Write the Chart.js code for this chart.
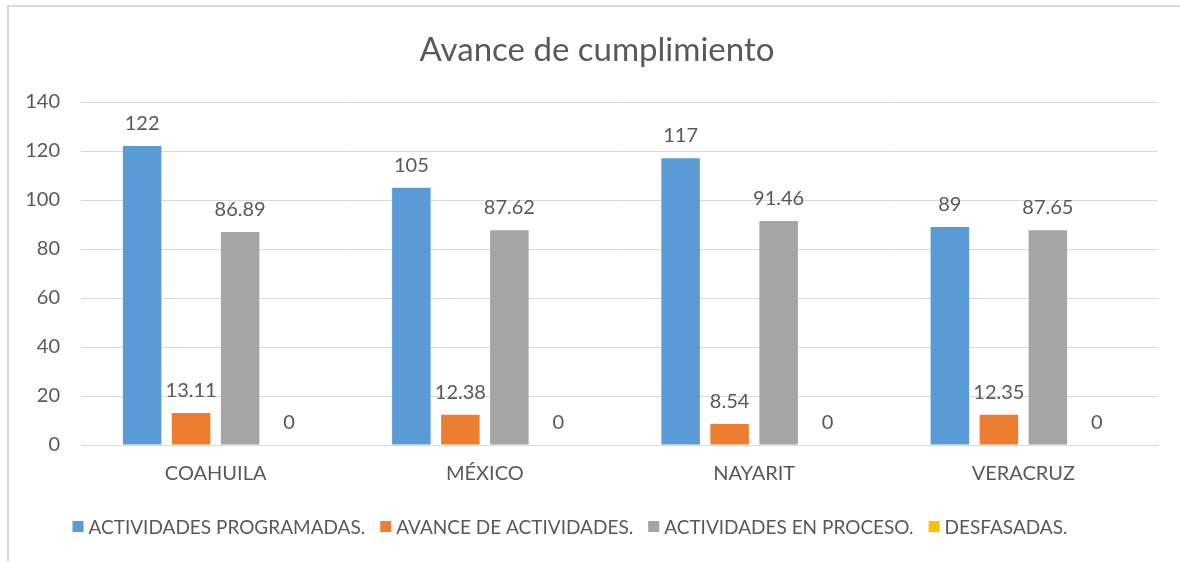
<!DOCTYPE html>
<html lang="es">
<head>
    <meta charset="UTF-8">
    <title>Avance de cumplimiento</title>
    <script src="https://cdn.jsdelivr.net/npm/chart.js"></script>
    <style>
        html, body { margin: 0; padding: 0; background: #fff; overflow: hidden; }
        #marco { position: absolute; left: 7px; top: 5px; width: 1200px; height: 600px; border: 2px solid #d9d9d9; }
        #avanceChart { position: absolute; left: 0; top: 0; }
    </style>
</head>
<body>
    <div id="marco"></div>
    <canvas id="avanceChart" width="1180" height="561"></canvas>

    <script>
        const estados = ['COAHUILA', 'MÉXICO', 'NAYARIT', 'VERACRUZ'];
        const programadas = [122, 105, 117, 89];
        const avance = [13.11, 12.38, 8.54, 12.35];
        const enProceso = [86.89, 87.62, 91.46, 87.65];
        const desfasadas = [0, 0, 0, 0];
        const ticksY = [0, 20, 40, 60, 80, 100, 120, 140];

        const FUENTE = "Lato, 'Open Sans', sans-serif";
        const GRIS_TEXTO = '#595959';

        // etiquetas encima de cada barra
        const etiquetas = {
            id: 'etiquetas',
            afterDatasetsDraw(chart) {
                const ctx = chart.ctx;
                ctx.save();
                ctx.font = '20px ' + FUENTE;
                ctx.fillStyle = GRIS_TEXTO;
                ctx.textAlign = 'center';
                ctx.textBaseline = 'alphabetic';
                chart.data.datasets.forEach((ds, i) => {
                    chart.getDatasetMeta(i).data.forEach((bar, j) => {
                        ctx.fillText(String(ds.data[j]), bar.x, bar.y - 16);
                    });
                });
                ctx.restore();
            }
        };

        // título y leyenda dibujados a mano
        const tituloLeyenda = {
            id: 'tituloLeyenda',
            afterDraw(chart) {
                const ctx = chart.ctx;
                ctx.save();
                ctx.fillStyle = GRIS_TEXTO;
                ctx.font = '33px ' + FUENTE;
                ctx.textAlign = 'center';
                ctx.textBaseline = 'alphabetic';
                ctx.fillText('Avance de cumplimiento', 597, 61);

                ctx.font = '19px ' + FUENTE;
                ctx.textAlign = 'left';
                const caja = 11, hueco = 5, sep = 15;
                const items = chart.data.datasets.map(ds => ({ texto: ds.label, color: ds.backgroundColor, w: ctx.measureText(ds.label).width }));
                const total = items.reduce((s, it) => s + caja + hueco + it.w, 0) + sep * (items.length - 1);
                let x = 570 - total / 2;
                items.forEach(it => {
                    ctx.fillStyle = it.color;
                    ctx.fillRect(x, 521, caja, caja);
                    ctx.fillStyle = GRIS_TEXTO;
                    ctx.fillText(it.texto, x + caja + hueco, 534);
                    x += caja + hueco + it.w + sep;
                });
                ctx.restore();
            }
        };

        const ctx = document.getElementById('avanceChart').getContext('2d');
        new Chart(ctx, {
            type: 'bar',
            data: {
                labels: estados,
                datasets: [
                    { label: 'ACTIVIDADES PROGRAMADAS.', data: programadas, backgroundColor: '#5B9BD5' },
                    { label: 'AVANCE DE ACTIVIDADES.', data: avance, backgroundColor: '#ED7D31' },
                    { label: 'ACTIVIDADES EN PROCESO.', data: enProceso, backgroundColor: '#A5A5A5' },
                    { label: 'DESFASADAS.', data: desfasadas, backgroundColor: '#FFC000' }
                ]
            },
            options: {
                responsive: false,
                animation: false,
                categoryPercentage: 0.728,
                barPercentage: 0.786,
                layout: { padding: { top: 102, left: 0, right: 22, bottom: 0 } },
                plugins: {
                    legend: { display: false },
                    title: { display: false },
                    tooltip: { enabled: false }
                },
                scales: {
                    x: {
                        grid: { display: false, drawTicks: false },
                        border: { color: '#d9d9d9', width: 1 },
                        ticks: { color: GRIS_TEXTO, font: { family: FUENTE, size: 20 }, padding: 17 },
                        afterFit(scale) { scale.height = 116; }
                    },
                    y: {
                        min: 0,
                        max: 140,
                        afterBuildTicks(scale) { scale.ticks = ticksY.map(v => ({ value: v })); },
                        grid: { color: '#d9d9d9', lineWidth: 1, drawTicks: false },
                        border: { display: false },
                        ticks: { color: GRIS_TEXTO, font: { family: FUENTE, size: 20 }, padding: 21 },
                        afterFit(scale) { scale.width = 81; }
                    }
                }
            },
            plugins: [etiquetas, tituloLeyenda]
        });
    </script>
</body>
</html>
